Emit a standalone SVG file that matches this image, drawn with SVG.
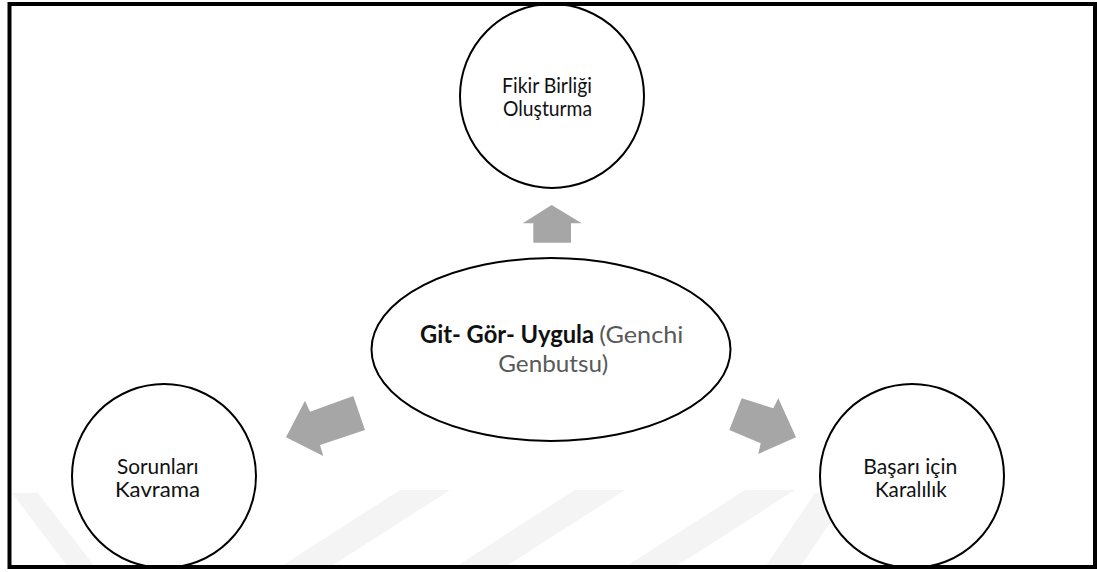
<svg xmlns="http://www.w3.org/2000/svg" width="1097" height="572" viewBox="0 0 1097 572">
  <style>
    .node { fill: #ffffff; stroke: #000000; stroke-width: 2; }
    .arrow { fill: #a6a6a6; stroke: none; }
    .lbl { font-family: "Lato", "Open Sans", "Liberation Sans", sans-serif; font-size: 21px; fill: #111111; }
    .clbl { font-family: "Lato", "Open Sans", "Liberation Sans", sans-serif; font-size: 24px; }
    .b { font-weight: bold; fill: #111111; }
    .g { font-weight: normal; fill: #595959; }
    .wm { fill: #f4f4f4; stroke: none; }
    .frame { fill: none; stroke: #000000; stroke-width: 4; }
  </style>
  <rect x="0" y="0" width="1097" height="572" fill="#ffffff"/>
  <g id="watermark">
    <polygon class="wm" points="12,493 38,493 95,567 68,567"/>
    <polygon class="wm" points="400,490 450,490 330,567 280,567"/>
    <polygon class="wm" points="575,490 625,490 505,567 455,567"/>
    <polygon class="wm" points="745,490 795,490 675,567 625,567"/>
    <polygon class="wm" points="815,493 850,493 800,567 765,567"/>
  </g>
  <g id="node-top">
    <circle class="node" cx="552" cy="96" r="92"/>
    <text class="lbl"><tspan x="502" y="93" textLength="90" lengthAdjust="spacingAndGlyphs">Fikir Birliği</tspan><tspan x="503" y="116" textLength="89" lengthAdjust="spacingAndGlyphs">Oluşturma</tspan></text>
  </g>
  <g id="node-center">
    <ellipse class="node" cx="551" cy="349.5" rx="179.5" ry="91.5"/>
    <text class="clbl"><tspan class="b" x="420" y="342.7" textLength="174" lengthAdjust="spacingAndGlyphs">Git- Gör- Uygula</tspan><tspan class="g" x="599.3" y="342.7" textLength="84" lengthAdjust="spacingAndGlyphs">(Genchi</tspan><tspan class="g" x="498.3" y="372.3" textLength="110" lengthAdjust="spacingAndGlyphs">Genbutsu)</tspan></text>
  </g>
  <g id="node-left">
    <circle class="node" cx="164" cy="476" r="92"/>
    <text class="lbl"><tspan x="117" y="474" textLength="81.6" lengthAdjust="spacingAndGlyphs">Sorunları</tspan><tspan x="115" y="497" textLength="85" lengthAdjust="spacingAndGlyphs">Kavrama</tspan></text>
  </g>
  <g id="node-right">
    <circle class="node" cx="912" cy="476" r="92"/>
    <text class="lbl"><tspan x="863.3" y="473.5" textLength="94" lengthAdjust="spacingAndGlyphs">Başarı için</tspan><tspan x="875" y="496.5" textLength="71.7" lengthAdjust="spacingAndGlyphs">Karalılık</tspan></text>
  </g>
  <g id="connectors">
    <polygon class="arrow" points="551.7,205 581.7,223.3 571,223.3 571,242.7 533.3,242.7 533.3,223.3 522.7,223.3"/>
    <polygon class="arrow" points="286,437.3 305,400.7 310,411.7 353.3,396 365,430 320,445 323.3,456"/>
    <polygon class="arrow" points="796,437.3 758.3,454 760.7,443.3 729.3,430 741.7,398.3 773.3,408.3 778.3,398.3"/>
  </g>
  <rect class="frame" x="9.5" y="4" width="1085.5" height="563"/>
</svg>
